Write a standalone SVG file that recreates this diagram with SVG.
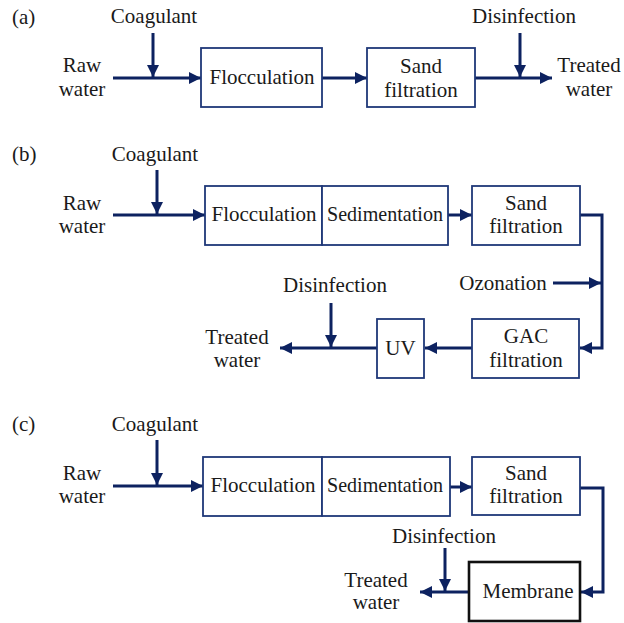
<svg xmlns="http://www.w3.org/2000/svg" width="624" height="623" viewBox="0 0 624 623">
<defs>
<marker id="ah" markerUnits="userSpaceOnUse" markerWidth="13" markerHeight="13" refX="12" refY="6" orient="auto">
<path d="M0,0 L12,6 L0,12 Z" fill="#0d2260"/>
</marker>
<style>
text{font-family:"Liberation Serif","Times New Roman",serif;font-size:21px;fill:#1a1a1a;text-anchor:middle}
.lbl{text-anchor:start}
.box{fill:#fff;stroke:#1f3878;stroke-width:1.8}
.mem{fill:#fff;stroke:#111;stroke-width:2.6}
.flow{fill:none;stroke:#0d2260;stroke-width:3}
.arr{fill:none;stroke:#0d2260;stroke-width:3;marker-end:url(#ah)}
</style>
</defs>
<rect width="624" height="623" fill="#fff"/>

<g id="connectors">
<!-- (a) -->
<line class="arr" x1="113" y1="78" x2="201" y2="78"/>
<line class="arr" x1="153" y1="33" x2="153" y2="77"/>
<line class="arr" x1="322" y1="78" x2="367" y2="78"/>
<line class="arr" x1="475" y1="78" x2="552" y2="78"/>
<line class="arr" x1="520" y1="33" x2="520" y2="77"/>
<!-- (b) -->
<line class="arr" x1="113" y1="215" x2="205" y2="215"/>
<line class="arr" x1="157" y1="170" x2="157" y2="214"/>
<line class="arr" x1="448" y1="215" x2="472" y2="215"/>
<polyline class="arr" points="580,215 602,215 602,348 580,348"/>
<line class="arr" x1="553" y1="283" x2="601" y2="283"/>
<line class="arr" x1="472" y1="348" x2="425" y2="348"/>
<line class="arr" x1="377" y1="348" x2="280" y2="348"/>
<line class="arr" x1="331" y1="303" x2="331" y2="347"/>
<!-- (c) -->
<line class="arr" x1="113" y1="486" x2="203" y2="486"/>
<line class="arr" x1="157" y1="440" x2="157" y2="485"/>
<line class="arr" x1="450" y1="487" x2="472" y2="487"/>
<polyline class="arr" points="580,488 603,488 603,592 581,592"/>
<line class="arr" x1="469" y1="592" x2="420" y2="592"/>
<line class="arr" x1="445" y1="548" x2="445" y2="591"/>
</g>

<!-- (a) -->
<g id="a-label"><text class="lbl" x="12" y="24">(a)</text></g>
<g id="a-coagulant"><text x="154" y="23">Coagulant</text></g>
<g id="a-raw"><text x="82" y="72">Raw</text><text x="82" y="96">water</text></g>
<g id="a-flocculation"><rect class="box" x="201" y="48" width="121" height="59"/><text x="262" y="84">Flocculation</text></g>
<g id="a-sand"><rect class="box" x="367" y="48" width="108" height="59"/><text x="421" y="73">Sand</text><text x="421" y="97">filtration</text></g>
<g id="a-disinfection"><text x="524" y="23">Disinfection</text></g>
<g id="a-treated"><text x="589" y="72">Treated</text><text x="589" y="96">water</text></g>

<!-- (b) -->
<g id="b-label"><text class="lbl" x="12" y="161">(b)</text></g>
<g id="b-coagulant"><text x="155" y="161">Coagulant</text></g>
<g id="b-raw"><text x="82" y="210">Raw</text><text x="82" y="233">water</text></g>
<g id="b-flocculation"><rect class="box" x="205" y="186" width="117" height="59"/><text x="264" y="221">Flocculation</text></g>
<g id="b-sedimentation"><rect class="box" x="322" y="186" width="126" height="59"/><text x="385" y="221" textLength="116" lengthAdjust="spacingAndGlyphs">Sedimentation</text></g>
<g id="b-sand"><rect class="box" x="472" y="186" width="108" height="59"/><text x="526" y="210">Sand</text><text x="526" y="233">filtration</text></g>
<g id="b-ozonation"><text x="503" y="290">Ozonation</text></g>
<g id="b-gac"><rect class="box" x="472" y="319" width="107" height="59"/><text x="526" y="343">GAC</text><text x="526" y="367">filtration</text></g>
<g id="b-uv"><rect class="box" x="377" y="319" width="47" height="59"/><text x="400.5" y="355">UV</text></g>
<g id="b-disinfection"><text x="335" y="292">Disinfection</text></g>
<g id="b-treated"><text x="237" y="344">Treated</text><text x="237" y="367">water</text></g>

<!-- (c) -->
<g id="c-label"><text class="lbl" x="12" y="431">(c)</text></g>
<g id="c-coagulant"><text x="155" y="431">Coagulant</text></g>
<g id="c-raw"><text x="82" y="480">Raw</text><text x="82" y="503">water</text></g>
<g id="c-flocculation"><rect class="box" x="203" y="457" width="119" height="59"/><text x="263" y="492">Flocculation</text></g>
<g id="c-sedimentation"><rect class="box" x="322" y="457" width="128" height="59"/><text x="385" y="492" textLength="116" lengthAdjust="spacingAndGlyphs">Sedimentation</text></g>
<g id="c-sand"><rect class="box" x="472" y="457" width="108" height="58"/><text x="526" y="480">Sand</text><text x="526" y="503">filtration</text></g>
<g id="c-membrane"><rect class="mem" x="469" y="562" width="111" height="59"/><text x="528" y="598">Membrane</text></g>
<g id="c-disinfection"><text x="444" y="543">Disinfection</text></g>
<g id="c-treated"><text x="376" y="587">Treated</text><text x="376" y="609">water</text></g>
</svg>
